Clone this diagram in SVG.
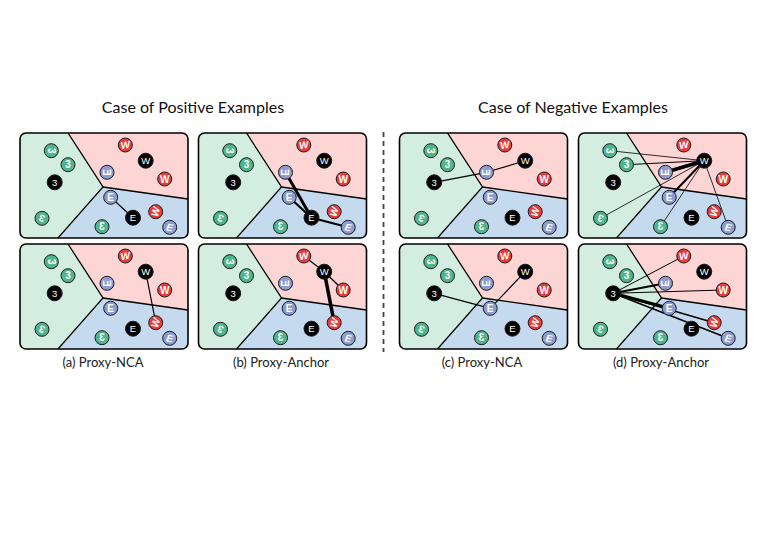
<svg xmlns="http://www.w3.org/2000/svg" xmlns:xlink="http://www.w3.org/1999/xlink" width="774" height="548" viewBox="0 0 774 548">
<style>
.title{font-family:Lato,"Liberation Sans",sans-serif;font-size:16px;fill:#111;text-anchor:middle}
.cap{font-family:Lato,"Liberation Sans",sans-serif;font-size:13px;fill:#222;text-anchor:middle}
.n circle{stroke:#1a1a1a;stroke-width:1}
.n text{font-family:"Liberation Sans",Arial,sans-serif;font-size:10px;font-weight:bold;fill:#fff;text-anchor:middle}
.g circle{fill:#4fb58d}
.r circle{fill:#ea3b3b}
.b circle{fill:#8c9dd1}
.p circle{fill:#000}
.p text{font-weight:normal;font-size:9.5px}
.c line{stroke:#000;stroke-linecap:round}
</style>
<defs>
<clipPath id="pc"><rect width="168" height="105" rx="6"/></clipPath>
<g id="bg">
<g clip-path="url(#pc)">
<polygon points="0,0 48,0 83,54 38,105 0,105" fill="#d3ede0"/>
<polygon points="48,0 168,0 168,66 83,54" fill="#fdd5d5"/>
<polygon points="83,54 168,66 168,105 38,105" fill="#c5d9ef"/>
<polyline points="48,0 83,54 38,105" fill="none" stroke="#000" stroke-width="1.3"/>
<line x1="83" y1="54" x2="168" y2="66" stroke="#000" stroke-width="1.3"/>
</g>
<rect x="0" y="0" width="168" height="105" rx="6" fill="none" stroke="#000" stroke-width="1.6"/>
</g>
</defs>
<rect width="774" height="548" fill="#fff"/>
<text class="title" x="193" y="113">Case of Positive Examples</text>
<text class="title" x="573" y="113">Case of Negative Examples</text>
<line x1="383.5" y1="132" x2="383.5" y2="352" stroke="#444" stroke-width="1.8" stroke-dasharray="5,4"/>
<use href="#bg" x="20" y="133"/>
<use href="#bg" x="198.5" y="133"/>
<use href="#bg" x="399.5" y="133"/>
<use href="#bg" x="578.5" y="133"/>
<use href="#bg" x="20" y="244"/>
<use href="#bg" x="198.5" y="244"/>
<use href="#bg" x="399.5" y="244"/>
<use href="#bg" x="578.5" y="244"/>
<g id="connectors" class="c">
<g transform="translate(20,133)"><line x1="113" y1="84.7" x2="90.7" y2="64.3" stroke-width="1.2"/></g>
<g transform="translate(198.5,133)"><line x1="113" y1="84.7" x2="87" y2="39.3" stroke-width="3"/><line x1="113" y1="84.7" x2="90.7" y2="64.3" stroke-width="2.2"/><line x1="113" y1="84.7" x2="149.7" y2="94.3" stroke-width="2.2"/></g>
<g transform="translate(399.5,133)"><line x1="34.7" y1="49.3" x2="87" y2="39.3" stroke-width="1.2"/><line x1="87" y1="39.3" x2="125.7" y2="27.7" stroke-width="1.2"/></g>
<g transform="translate(578.5,133)"><line x1="125.7" y1="27.7" x2="31.3" y2="17.7" stroke-width="0.8"/><line x1="125.7" y1="27.7" x2="48" y2="31.7" stroke-width="1"/><line x1="125.7" y1="27.7" x2="87" y2="39.3" stroke-width="3.5"/><line x1="125.7" y1="27.7" x2="90.7" y2="64.3" stroke-width="2"/><line x1="125.7" y1="27.7" x2="22" y2="85.3" stroke-width="0.8"/><line x1="125.7" y1="27.7" x2="82" y2="93.7" stroke-width="0.8"/><line x1="125.7" y1="27.7" x2="149.7" y2="94.3" stroke-width="0.8"/></g>
<g transform="translate(20,244)"><line x1="125.7" y1="27.7" x2="135.7" y2="78.7" stroke-width="1.2"/></g>
<g transform="translate(198.5,244)"><line x1="125.7" y1="27.7" x2="105.3" y2="12" stroke-width="1.2"/><line x1="125.7" y1="27.7" x2="144.7" y2="46" stroke-width="1.5"/><line x1="125.7" y1="27.7" x2="135.7" y2="78.7" stroke-width="3.5"/></g>
<g transform="translate(399.5,244)"><line x1="34.7" y1="49.3" x2="90.7" y2="64.3" stroke-width="1.2"/><line x1="125.7" y1="27.7" x2="90.7" y2="64.3" stroke-width="1.2"/></g>
<g transform="translate(578.5,244)"><line x1="34.7" y1="49.3" x2="105.3" y2="12" stroke-width="1"/><line x1="34.7" y1="49.3" x2="87" y2="39.3" stroke-width="2"/><line x1="34.7" y1="49.3" x2="144.7" y2="46" stroke-width="1"/><line x1="34.7" y1="49.3" x2="90.7" y2="64.3" stroke-width="3"/><line x1="34.7" y1="49.3" x2="135.7" y2="78.7" stroke-width="1.5"/><line x1="34.7" y1="49.3" x2="149.7" y2="94.3" stroke-width="1.5"/></g>
</g>
<g id="panel-a-top" transform="translate(20,133)">
<g id="a1-g1" class="n g" transform="translate(31.3,17.7)"><circle r="7"/><text transform="rotate(90)" y="3.5">3</text></g>
<g id="a1-g2" class="n g" transform="translate(48,31.7)"><circle r="7"/><text y="3.5">3</text></g>
<g id="a1-g3" class="n g" transform="translate(22,85.3)"><circle r="7"/><text transform="rotate(-160)" y="3.5">3</text></g>
<g id="a1-g4" class="n g" transform="translate(82,93.7)"><circle r="7"/><text transform="scale(-1,1)" y="3.5">3</text></g>
<g id="a1-p3" class="n p" transform="translate(34.7,49.3)"><circle r="7.5"/><text y="3.4">3</text></g>
<g id="a1-r1" class="n r" transform="translate(105.3,12)"><circle r="7"/><text transform="rotate(-10)" y="3.5" font-style="italic" font-weight="normal">W</text></g>
<g id="a1-pw" class="n p" transform="translate(125.7,27.7)"><circle r="7.5"/><text y="3.4">W</text></g>
<g id="a1-r2" class="n r" transform="translate(144.7,46)"><circle r="7"/><text y="3.5">W</text></g>
<g id="a1-r3" class="n r" transform="translate(135.7,78.7)"><circle r="7"/><text transform="rotate(-75)" y="3.5" font-style="italic" font-weight="normal">W</text></g>
<g id="a1-b1" class="n b" transform="translate(87,39.3)"><circle r="7"/><text transform="rotate(-90)" y="3.5">E</text></g>
<g id="a1-b2" class="n b" transform="translate(90.7,64.3)"><circle r="7"/><text y="3.5">E</text></g>
<g id="a1-pe" class="n p" transform="translate(113,84.7)"><circle r="7.5"/><text y="3.4">E</text></g>
<g id="a1-b3" class="n b" transform="translate(149.7,94.3)"><circle r="7"/><text transform="rotate(10)" y="3.5" font-style="italic" font-weight="normal">E</text></g>
</g>
<g id="panel-b-top" transform="translate(198.5,133)">
<g id="b1-g1" class="n g" transform="translate(31.3,17.7)"><circle r="7"/><text transform="rotate(90)" y="3.5">3</text></g>
<g id="b1-g2" class="n g" transform="translate(48,31.7)"><circle r="7"/><text y="3.5">3</text></g>
<g id="b1-g3" class="n g" transform="translate(22,85.3)"><circle r="7"/><text transform="rotate(-160)" y="3.5">3</text></g>
<g id="b1-g4" class="n g" transform="translate(82,93.7)"><circle r="7"/><text transform="scale(-1,1)" y="3.5">3</text></g>
<g id="b1-p3" class="n p" transform="translate(34.7,49.3)"><circle r="7.5"/><text y="3.4">3</text></g>
<g id="b1-r1" class="n r" transform="translate(105.3,12)"><circle r="7"/><text transform="rotate(-10)" y="3.5" font-style="italic" font-weight="normal">W</text></g>
<g id="b1-pw" class="n p" transform="translate(125.7,27.7)"><circle r="7.5"/><text y="3.4">W</text></g>
<g id="b1-r2" class="n r" transform="translate(144.7,46)"><circle r="7"/><text y="3.5">W</text></g>
<g id="b1-r3" class="n r" transform="translate(135.7,78.7)"><circle r="7"/><text transform="rotate(-75)" y="3.5" font-style="italic" font-weight="normal">W</text></g>
<g id="b1-b1" class="n b" transform="translate(87,39.3)"><circle r="7"/><text transform="rotate(-90)" y="3.5">E</text></g>
<g id="b1-b2" class="n b" transform="translate(90.7,64.3)"><circle r="7"/><text y="3.5">E</text></g>
<g id="b1-pe" class="n p" transform="translate(113,84.7)"><circle r="7.5"/><text y="3.4">E</text></g>
<g id="b1-b3" class="n b" transform="translate(149.7,94.3)"><circle r="7"/><text transform="rotate(10)" y="3.5" font-style="italic" font-weight="normal">E</text></g>
</g>
<g id="panel-c-top" transform="translate(399.5,133)">
<g id="c1-g1" class="n g" transform="translate(31.3,17.7)"><circle r="7"/><text transform="rotate(90)" y="3.5">3</text></g>
<g id="c1-g2" class="n g" transform="translate(48,31.7)"><circle r="7"/><text y="3.5">3</text></g>
<g id="c1-g3" class="n g" transform="translate(22,85.3)"><circle r="7"/><text transform="rotate(-160)" y="3.5">3</text></g>
<g id="c1-g4" class="n g" transform="translate(82,93.7)"><circle r="7"/><text transform="scale(-1,1)" y="3.5">3</text></g>
<g id="c1-p3" class="n p" transform="translate(34.7,49.3)"><circle r="7.5"/><text y="3.4">3</text></g>
<g id="c1-r1" class="n r" transform="translate(105.3,12)"><circle r="7"/><text transform="rotate(-10)" y="3.5" font-style="italic" font-weight="normal">W</text></g>
<g id="c1-pw" class="n p" transform="translate(125.7,27.7)"><circle r="7.5"/><text y="3.4">W</text></g>
<g id="c1-r2" class="n r" transform="translate(144.7,46)"><circle r="7"/><text y="3.5">W</text></g>
<g id="c1-r3" class="n r" transform="translate(135.7,78.7)"><circle r="7"/><text transform="rotate(-75)" y="3.5" font-style="italic" font-weight="normal">W</text></g>
<g id="c1-b1" class="n b" transform="translate(87,39.3)"><circle r="7"/><text transform="rotate(-90)" y="3.5">E</text></g>
<g id="c1-b2" class="n b" transform="translate(90.7,64.3)"><circle r="7"/><text y="3.5">E</text></g>
<g id="c1-pe" class="n p" transform="translate(113,84.7)"><circle r="7.5"/><text y="3.4">E</text></g>
<g id="c1-b3" class="n b" transform="translate(149.7,94.3)"><circle r="7"/><text transform="rotate(10)" y="3.5" font-style="italic" font-weight="normal">E</text></g>
</g>
<g id="panel-d-top" transform="translate(578.5,133)">
<g id="d1-g1" class="n g" transform="translate(31.3,17.7)"><circle r="7"/><text transform="rotate(90)" y="3.5">3</text></g>
<g id="d1-g2" class="n g" transform="translate(48,31.7)"><circle r="7"/><text y="3.5">3</text></g>
<g id="d1-g3" class="n g" transform="translate(22,85.3)"><circle r="7"/><text transform="rotate(-160)" y="3.5">3</text></g>
<g id="d1-g4" class="n g" transform="translate(82,93.7)"><circle r="7"/><text transform="scale(-1,1)" y="3.5">3</text></g>
<g id="d1-p3" class="n p" transform="translate(34.7,49.3)"><circle r="7.5"/><text y="3.4">3</text></g>
<g id="d1-r1" class="n r" transform="translate(105.3,12)"><circle r="7"/><text transform="rotate(-10)" y="3.5" font-style="italic" font-weight="normal">W</text></g>
<g id="d1-pw" class="n p" transform="translate(125.7,27.7)"><circle r="7.5"/><text y="3.4">W</text></g>
<g id="d1-r2" class="n r" transform="translate(144.7,46)"><circle r="7"/><text y="3.5">W</text></g>
<g id="d1-r3" class="n r" transform="translate(135.7,78.7)"><circle r="7"/><text transform="rotate(-75)" y="3.5" font-style="italic" font-weight="normal">W</text></g>
<g id="d1-b1" class="n b" transform="translate(87,39.3)"><circle r="7"/><text transform="rotate(-90)" y="3.5">E</text></g>
<g id="d1-b2" class="n b" transform="translate(90.7,64.3)"><circle r="7"/><text y="3.5">E</text></g>
<g id="d1-pe" class="n p" transform="translate(113,84.7)"><circle r="7.5"/><text y="3.4">E</text></g>
<g id="d1-b3" class="n b" transform="translate(149.7,94.3)"><circle r="7"/><text transform="rotate(10)" y="3.5" font-style="italic" font-weight="normal">E</text></g>
</g>
<g id="panel-a-bottom" transform="translate(20,244)">
<g id="a2-g1" class="n g" transform="translate(31.3,17.7)"><circle r="7"/><text transform="rotate(90)" y="3.5">3</text></g>
<g id="a2-g2" class="n g" transform="translate(48,31.7)"><circle r="7"/><text y="3.5">3</text></g>
<g id="a2-g3" class="n g" transform="translate(22,85.3)"><circle r="7"/><text transform="rotate(-160)" y="3.5">3</text></g>
<g id="a2-g4" class="n g" transform="translate(82,93.7)"><circle r="7"/><text transform="scale(-1,1)" y="3.5">3</text></g>
<g id="a2-p3" class="n p" transform="translate(34.7,49.3)"><circle r="7.5"/><text y="3.4">3</text></g>
<g id="a2-r1" class="n r" transform="translate(105.3,12)"><circle r="7"/><text transform="rotate(-10)" y="3.5" font-style="italic" font-weight="normal">W</text></g>
<g id="a2-pw" class="n p" transform="translate(125.7,27.7)"><circle r="7.5"/><text y="3.4">W</text></g>
<g id="a2-r2" class="n r" transform="translate(144.7,46)"><circle r="7"/><text y="3.5">W</text></g>
<g id="a2-r3" class="n r" transform="translate(135.7,78.7)"><circle r="7"/><text transform="rotate(-75)" y="3.5" font-style="italic" font-weight="normal">W</text></g>
<g id="a2-b1" class="n b" transform="translate(87,39.3)"><circle r="7"/><text transform="rotate(-90)" y="3.5">E</text></g>
<g id="a2-b2" class="n b" transform="translate(90.7,64.3)"><circle r="7"/><text y="3.5">E</text></g>
<g id="a2-pe" class="n p" transform="translate(113,84.7)"><circle r="7.5"/><text y="3.4">E</text></g>
<g id="a2-b3" class="n b" transform="translate(149.7,94.3)"><circle r="7"/><text transform="rotate(10)" y="3.5" font-style="italic" font-weight="normal">E</text></g>
</g>
<g id="panel-b-bottom" transform="translate(198.5,244)">
<g id="b2-g1" class="n g" transform="translate(31.3,17.7)"><circle r="7"/><text transform="rotate(90)" y="3.5">3</text></g>
<g id="b2-g2" class="n g" transform="translate(48,31.7)"><circle r="7"/><text y="3.5">3</text></g>
<g id="b2-g3" class="n g" transform="translate(22,85.3)"><circle r="7"/><text transform="rotate(-160)" y="3.5">3</text></g>
<g id="b2-g4" class="n g" transform="translate(82,93.7)"><circle r="7"/><text transform="scale(-1,1)" y="3.5">3</text></g>
<g id="b2-p3" class="n p" transform="translate(34.7,49.3)"><circle r="7.5"/><text y="3.4">3</text></g>
<g id="b2-r1" class="n r" transform="translate(105.3,12)"><circle r="7"/><text transform="rotate(-10)" y="3.5" font-style="italic" font-weight="normal">W</text></g>
<g id="b2-pw" class="n p" transform="translate(125.7,27.7)"><circle r="7.5"/><text y="3.4">W</text></g>
<g id="b2-r2" class="n r" transform="translate(144.7,46)"><circle r="7"/><text y="3.5">W</text></g>
<g id="b2-r3" class="n r" transform="translate(135.7,78.7)"><circle r="7"/><text transform="rotate(-75)" y="3.5" font-style="italic" font-weight="normal">W</text></g>
<g id="b2-b1" class="n b" transform="translate(87,39.3)"><circle r="7"/><text transform="rotate(-90)" y="3.5">E</text></g>
<g id="b2-b2" class="n b" transform="translate(90.7,64.3)"><circle r="7"/><text y="3.5">E</text></g>
<g id="b2-pe" class="n p" transform="translate(113,84.7)"><circle r="7.5"/><text y="3.4">E</text></g>
<g id="b2-b3" class="n b" transform="translate(149.7,94.3)"><circle r="7"/><text transform="rotate(10)" y="3.5" font-style="italic" font-weight="normal">E</text></g>
</g>
<g id="panel-c-bottom" transform="translate(399.5,244)">
<g id="c2-g1" class="n g" transform="translate(31.3,17.7)"><circle r="7"/><text transform="rotate(90)" y="3.5">3</text></g>
<g id="c2-g2" class="n g" transform="translate(48,31.7)"><circle r="7"/><text y="3.5">3</text></g>
<g id="c2-g3" class="n g" transform="translate(22,85.3)"><circle r="7"/><text transform="rotate(-160)" y="3.5">3</text></g>
<g id="c2-g4" class="n g" transform="translate(82,93.7)"><circle r="7"/><text transform="scale(-1,1)" y="3.5">3</text></g>
<g id="c2-p3" class="n p" transform="translate(34.7,49.3)"><circle r="7.5"/><text y="3.4">3</text></g>
<g id="c2-r1" class="n r" transform="translate(105.3,12)"><circle r="7"/><text transform="rotate(-10)" y="3.5" font-style="italic" font-weight="normal">W</text></g>
<g id="c2-pw" class="n p" transform="translate(125.7,27.7)"><circle r="7.5"/><text y="3.4">W</text></g>
<g id="c2-r2" class="n r" transform="translate(144.7,46)"><circle r="7"/><text y="3.5">W</text></g>
<g id="c2-r3" class="n r" transform="translate(135.7,78.7)"><circle r="7"/><text transform="rotate(-75)" y="3.5" font-style="italic" font-weight="normal">W</text></g>
<g id="c2-b1" class="n b" transform="translate(87,39.3)"><circle r="7"/><text transform="rotate(-90)" y="3.5">E</text></g>
<g id="c2-b2" class="n b" transform="translate(90.7,64.3)"><circle r="7"/><text y="3.5">E</text></g>
<g id="c2-pe" class="n p" transform="translate(113,84.7)"><circle r="7.5"/><text y="3.4">E</text></g>
<g id="c2-b3" class="n b" transform="translate(149.7,94.3)"><circle r="7"/><text transform="rotate(10)" y="3.5" font-style="italic" font-weight="normal">E</text></g>
</g>
<g id="panel-d-bottom" transform="translate(578.5,244)">
<g id="d2-g1" class="n g" transform="translate(31.3,17.7)"><circle r="7"/><text transform="rotate(90)" y="3.5">3</text></g>
<g id="d2-g2" class="n g" transform="translate(48,31.7)"><circle r="7"/><text y="3.5">3</text></g>
<g id="d2-g3" class="n g" transform="translate(22,85.3)"><circle r="7"/><text transform="rotate(-160)" y="3.5">3</text></g>
<g id="d2-g4" class="n g" transform="translate(82,93.7)"><circle r="7"/><text transform="scale(-1,1)" y="3.5">3</text></g>
<g id="d2-p3" class="n p" transform="translate(34.7,49.3)"><circle r="7.5"/><text y="3.4">3</text></g>
<g id="d2-r1" class="n r" transform="translate(105.3,12)"><circle r="7"/><text transform="rotate(-10)" y="3.5" font-style="italic" font-weight="normal">W</text></g>
<g id="d2-pw" class="n p" transform="translate(125.7,27.7)"><circle r="7.5"/><text y="3.4">W</text></g>
<g id="d2-r2" class="n r" transform="translate(144.7,46)"><circle r="7"/><text y="3.5">W</text></g>
<g id="d2-r3" class="n r" transform="translate(135.7,78.7)"><circle r="7"/><text transform="rotate(-75)" y="3.5" font-style="italic" font-weight="normal">W</text></g>
<g id="d2-b1" class="n b" transform="translate(87,39.3)"><circle r="7"/><text transform="rotate(-90)" y="3.5">E</text></g>
<g id="d2-b2" class="n b" transform="translate(90.7,64.3)"><circle r="7"/><text y="3.5">E</text></g>
<g id="d2-pe" class="n p" transform="translate(113,84.7)"><circle r="7.5"/><text y="3.4">E</text></g>
<g id="d2-b3" class="n b" transform="translate(149.7,94.3)"><circle r="7"/><text transform="rotate(10)" y="3.5" font-style="italic" font-weight="normal">E</text></g>
</g>
<text class="cap" x="103" y="367">(a) Proxy-NCA</text>
<text class="cap" x="281" y="367">(b) Proxy-Anchor</text>
<text class="cap" x="482" y="367">(c) Proxy-NCA</text>
<text class="cap" x="661" y="367">(d) Proxy-Anchor</text>
</svg>
